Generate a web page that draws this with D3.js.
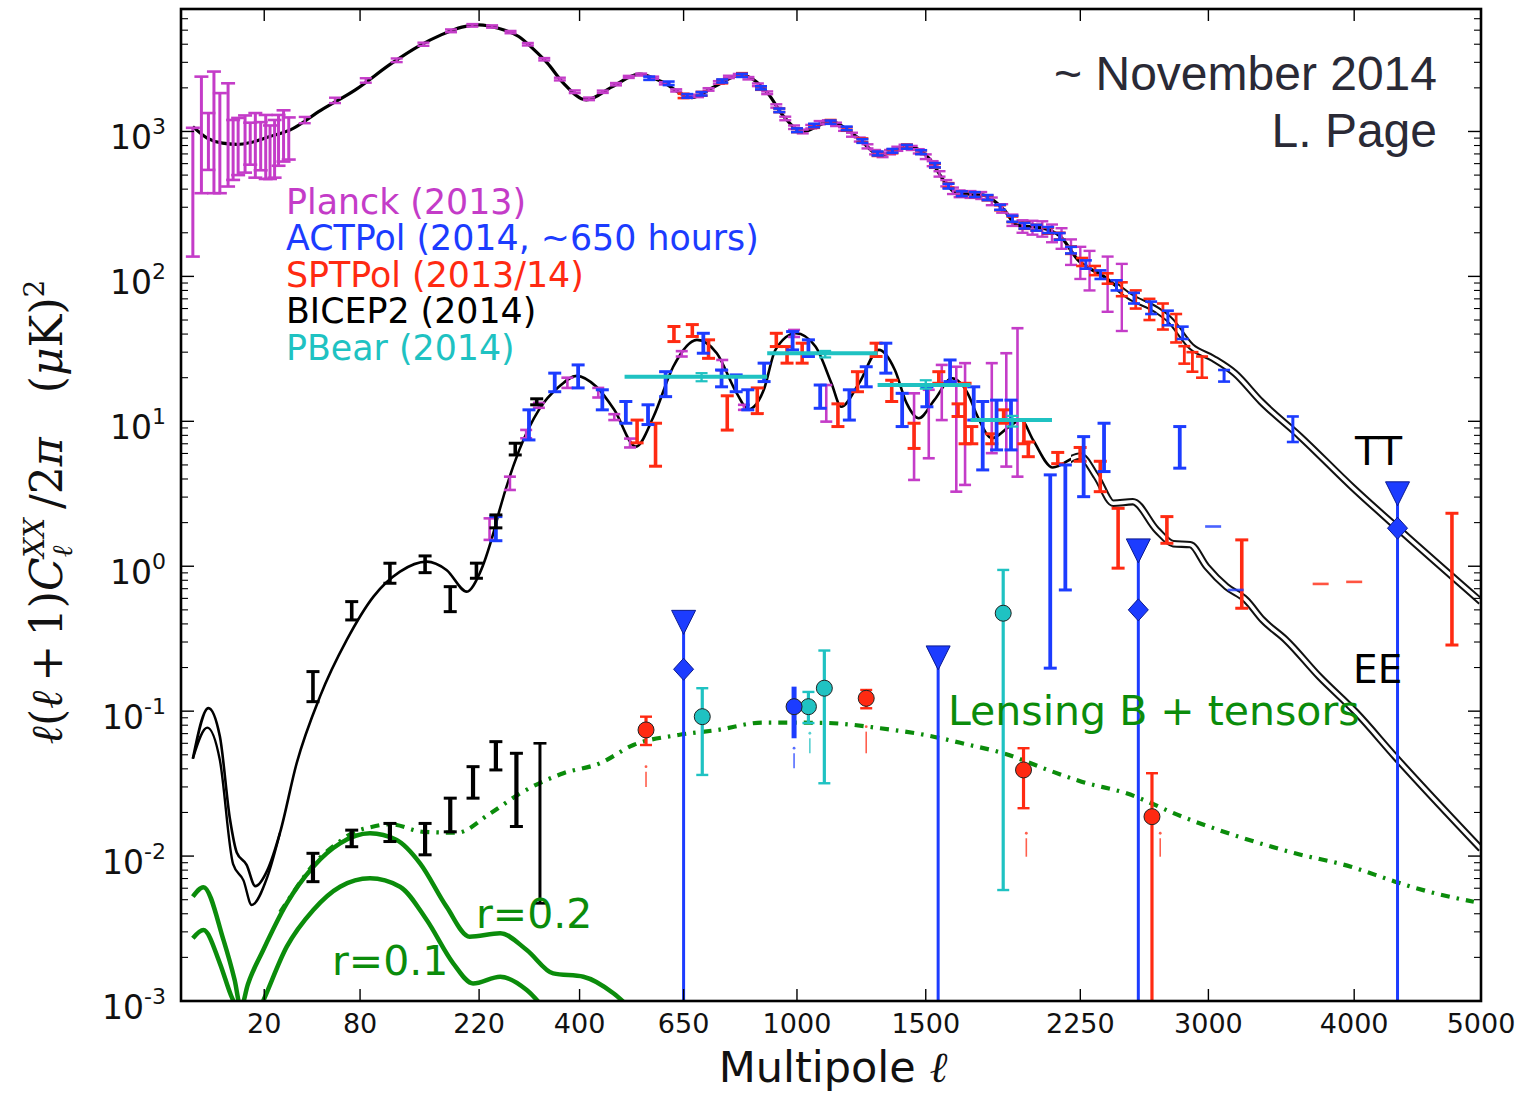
<!DOCTYPE html>
<html>
<head>
<meta charset="utf-8">
<title>CMB power spectra, November 2014</title>
<script src="https://cdn.jsdelivr.net/npm/d3@7"></script>
<style>
  html, body { margin: 0; padding: 0; background: #fff; }
  svg { display: block; }
</style>
</head>
<body>
<svg id="chart" width="1522" height="1094" xmlns="http://www.w3.org/2000/svg"></svg>
<script>
// ---------- theory spectra: [multipole l, l(l+1)C_l/2pi in uK^2] ----------
const ttTheory = [[2,1080],[4,900],[7,830],[10.7,815],[15,840],[22,920],[32,1026],[50,1400],[76,1937],[110,2960],[140,3900],[167,4640],[195,5250],[220,5440],[250,5150],[284,4520],[310,3700],[336,2960],[367,2155],[414,1652],[472,2040],[535,2485],[591,2210],[673,1714],[737,2040],[817,2460],[902,1837],[955,1268],[1020,998],[1118,1170],[1217,922],[1311,689],[1428,787],[1520,637],[1577,463],[1636,375],[1756,365],[1859,288],[1922,226],[2054,215],[2145,188],[2237,130],[2380,99.7],[2527,72.6],[2682,58.7],[2762,50.1],[2893,32.8],[3029,27.2],[3169,21.5],[3343,13.7],[3612,7.84],[3983,3.54],[4345,1.78],[5000,0.57]];

const eeTheory = [[2,0.047],[4.2,0.105],[6.4,0.067],[8.8,0.0178],[10.6,0.0106],[13.6,0.0087],[16.6,0.0062],[21.3,0.008],[26.9,0.0145],[35.4,0.0437],[49.5,0.126],[69,0.31],[92,0.617],[118.5,0.918],[149,1.076],[174,0.943],[202,0.668],[221,0.895],[242,1.69],[252,2.45],[285,6.35],[320,12.0],[358,17.3],[394,20.6],[436,17.3],[476,12.0],[527,6.69],[571,10.8],[622,23.8],[687,36.5],[744,29.5],[804,15.6],[840,12.1],[889,16.5],[927,31.1],[996,40.5],[1065,32.8],[1123,18.3],[1159,12.6],[1227,18.3],[1305,31.1],[1370,22.6],[1419,13.3],[1470,10.5],[1537,14.0],[1616,19.8],[1687,15.6],[1733,10.8],[1800,7.64],[1884,9.19],[1943,10.2],[2003,7.44],[2104,4.8],[2248,5.77],[2338,4.15],[2432,2.72],[2543,2.79],[2683,1.78],[2783,1.43],[2886,1.41],[2989,0.993],[3115,0.723],[3243,0.585],[3354,0.426],[3512,0.31],[3747,0.173],[4014,0.098],[4310,0.0485],[5000,0.0112]];

// second reionisation branch of EE at the lowest multipoles
const eeLowAlt = [[2,0.047],[4,0.077],[6.4,0.046],[9.6,0.0088],[12.6,0.0068],[15.3,0.0046],[21.3,0.0072],[26.9,0.0145]];

const bbLensTensor = [[27,0.0041],[30.2,0.0048],[45.2,0.0087],[64,0.0127],[74,0.0145],[89,0.0158],[108,0.0166],[145,0.0147],[188,0.0145],[237,0.0197],[286,0.027],[367,0.0373],[444,0.0437],[521,0.0584],[636,0.0685],[746,0.0742],[885,0.0834],[1096,0.083],[1311,0.0762],[1497,0.0685],[1696,0.0584],[1857,0.0512],[2079,0.0393],[2257,0.0326],[2507,0.0271],[2837,0.0187],[3196,0.0136],[3576,0.01045],[3976,0.00845],[4310,0.00666],[4574,0.00568],[4940,0.00484]];

const bbTensorR02 = [[2,0.00525],[3.4,0.0061],[7.2,0.00264],[10,0.0014],[11.8,0.0009],[14,0.0013],[19.6,0.00225],[30.2,0.00472],[45.2,0.00845],[63.8,0.01225],[88.8,0.01436],[115,0.0129],[141,0.00891],[174,0.00448],[206,0.00278],[253,0.00293],[298,0.00225],[347,0.00155],[408,0.00147],[474,0.00113],[530,0.0008]];

const bbTensorR01 = [[2,0.00271],[3.4,0.00309],[6.4,0.00182],[9,0.0011],[11,0.00085],[14,0.0006],[19,0.00095],[30.2,0.00237],[45.2,0.00425],[63.8,0.00615],[88.8,0.00703],[118.5,0.00615],[149,0.00362],[183,0.00182],[211,0.00132],[253,0.00147],[298,0.00119],[340,0.0008]];

// ---------- TT measurements ----------
// [l, low, high]
const planckLowTT = [[2,137,1060],[3.1,375,2390],[4.2,543,1340],[5.2,375,2590],[6.4,375,1840],[8.3,417,2150],[9.6,463,1200],[11,500,1240],[13.1,520,1290],[14.8,590,1150],[16.6,480,1340],[18.6,540,1160],[20.6,470,1300],[22.4,470,1100],[24.4,480,1200],[26.2,580,1300],[28.6,620,1400],[31.2,640,1250]];
// [l, value, sigma]
const planckTT = [[40,1200,60],[60,1640,70],[85,2250,80],[115,3100,90],[145,4000,100],[180,4950,110],[210,5400,110],[240,5300,100],[270,4850,90],[300,4000,80],[330,3150,60],[360,2300,50],[390,1880,40],[420,1680,35],[450,1880,35],[480,2120,40],[510,2380,40],[540,2470,40],[570,2350,40],[600,2150,40],[630,1920,35],[660,1740,35],[690,1760,35],[720,1950,40],[750,2180,45],[780,2380,45],[810,2450,45],[840,2330,45],[870,2100,45],[900,1850,40],[930,1500,40],[960,1230,35],[990,1070,30],[1020,1000,30],[1050,1080,30],[1080,1150,30],[1110,1165,30],[1140,1120,30],[1170,1040,30],[1200,950,30],[1230,880,28],[1260,790,26],[1290,720,25],[1320,690,25],[1350,720,25],[1380,760,25],[1410,785,25],[1440,770,25],[1470,730,25],[1500,670,25],[1530,600,24],[1560,510,22],[1590,440,22],[1620,390,20],[1650,372,20],[1700,368,20],[1750,362,20],[1800,330,20],[1850,295,20],[1900,245,22],[1950,222,22],[2000,218,24],[2050,214,26],[2100,200,28],[2150,185,30],[2200,150,30],[2250,128,32],[2300,115,35],[2400,97,40],[2480,82,40]];
const actTT = [[560,2330,60],[610,2150,60],[660,1760,50],[700,1820,50],[760,2230,55],[820,2440,60],[880,2000,50],[940,1400,40],[1000,1020,30],[1060,1100,30],[1120,1160,30],[1180,1050,30],[1240,860,25],[1300,705,22],[1360,735,22],[1420,785,24],[1480,720,22],[1540,585,20],[1600,420,16],[1660,372,14],[1720,367,14],[1780,350,14],[1840,300,12],[1900,250,12],[1960,224,10],[2020,217,10],[2080,209,10],[2140,189,10],[2200,152,8],[2280,121,8],[2360,103,7],[2450,87,7],[2550,71,6],[2650,61,6],[2750,52,6],[2840,41,4],[3100,20.7,1.9],[3560,9,1.8]];
const sptTT = [[650,1760,60],[700,1820,55],[760,2210,60],[820,2460,65],[880,1990,50],[940,1400,40],[1000,1020,30],[1060,1090,30],[1120,1170,30],[1180,1040,28],[1240,870,25],[1300,700,22],[1360,730,22],[1420,790,22],[1480,720,20],[1540,580,18],[1600,425,15],[1660,372,13],[1720,366,13],[1780,348,13],[1840,298,12],[1900,248,11],[1960,224,11],[2020,217,10],[2080,207,10],[2140,190,10],[2200,152,9],[2260,126,8],[2330,110,8],[2400,97,8],[2480,82,9],[2560,70,10],[2640,60,10],[2720,54,11],[2800,45,10],[2850,29,4],[2900,26,4],[2960,24,4]];

// ---------- EE measurements: [l, low, high] ----------
const bicepEE = [[45,0.1163,0.1875],[73,0.426,0.57],[108,0.763,1.049],[147,0.903,1.178],[179,0.486,0.723],[216,0.826,1.05],[246,1.84,2.26],[278,5.86,7.06],[316,13.0,14.3]];
const planckEE = [[236,1.52,2.14],[269,3.36,4.15],[297,7.64,8.72],[320,12.4,13.4],[375,17,20],[440,14.6,17],[476,10.2,11.2],[513,6.6,7.6],[645,28,30.5],[760,22.5,26.5],[826,12,13],[990,38.2,42.7],[1104,9.95,17.8],[1450,3.94,15.6],[1513,5.56,16.5],[1570,10.2,24.5],[1635,3.27,23.8],[1675,3.64,25.2],[1800,6.03,25.2],[1870,4.87,29.5],[1925,4.15,43.9]];
const actEE = [[246,1.5,2.2],[302,7.44,12.0],[350,16.0,21.5],[397,17.0,24.5],[449,12.0,16.5],[503,9.7,13.7],[557,9.5,13],[602,14.8,22.0],[705,29.5,40.5],[758,17.3,22.6],[802,16.0,20.9],[838,12.0,16.5],[890,18.8,25.2],[985,31.1,41.6],[1040,28.0,36.5],[1082,12.3,17.8],[1190,10.2,16.5],[1255,17.3,23.8],[1333,21.5,34.6],[1400,9.2,15.6],[1505,12.6,17.3],[1607,18.8,26.5],[1715,10.2,17.3],[1757,4.62,13.7],[1823,6.35,14.0],[1893,6.35,14.0],[2091,0.198,4.27],[2170,0.686,5.0],[2268,3.02,7.84],[2380,4.5,9.7],[2822,4.75,9.2]];
const sptEE = [[530,7.1,10.2],[576,4.9,9.7],[624,35.5,45.1],[674,38.5,46.5],[720,27.2,36.5],[775,8.7,15.0],[868,11.3,17.0],[930,32.8,40.5],[966,25.2,32.8],[1018,25.2,34.6],[1147,9.2,13.2],[1221,16.0,22.0],[1294,28.0,34.6],[1357,13.7,19.2],[1450,6.5,9.7],[1557,18.3,22.0],[1643,10.8,13.2],[1675,7.0,18.3],[1706,7.0,9.2],[1800,7.0,8.2],[1857,9.7,12.0],[1957,7.0,10.2],[1979,5.7,7.2],[2130,5.1,6.1],[2249,5.3,6.6],[2359,3.27,5.3],[2459,0.97,2.51],[2744,1.44,2.2],[3215,0.513,1.52],[4760,0.286,2.32]];
// band powers shown only as a short bar: [l, value]
const actEEDash = [[3030,1.88],[3175,0.686]];
const sptEEDash = [[3756,0.755],[4000,0.78]];
// PolarBear EE bands: [l start, l end, l centre, value, low, high]
const pbearEE = [[500,900,700,20.3,18.9,21.5],[900,1300,1100,29.5,27.6,30.6],[1300,1700,1500,17.8,16.8,19.2],[1700,2100,1900,10.2,9.2,10.9]];

// ---------- BB measurements ----------
const bicepBB = [[45,0.00666,0.01045],[73,0.0116,0.0151],[108,0.0126,0.0168],[147,0.0102,0.0168],[179,0.0147,0.0251],[211,0.0251,0.0414],[246,0.0393,0.0616],[280,0.016,0.0512],[322,0.00472,0.06]];
// [l, value, low, high]; a low of 0 runs off the bottom of the log axis
const sptBB = [[552,0.0742,0.0584,0.0916],[1255,0.1227,0.1047,0.14],[1955,0.0393,0.0214,0.0555],[2655,0.0187,0,0.0373]];
const pbearBB = [[702,0.0916,0.0363,0.144],[1040,0.1074,0.0828,0.1357],[1097,0.144,0.0318,0.262],[1855,0.474,0.00583,0.943]];
const actBB = [[990,0.1074,0.065,0.1476]];
// ACTPol BB upper limits (down-pointing triangles) and central values (diamonds)
const actBBLimit = [[650,0.41],[1554,0.233],[2575,1.276],[4328,3.16]];
const actBBPoint = [[650,0.1946],[2575,0.5],[4328,1.83]];
// small lower-edge markers under some BB points: [l, low, high, series]
const bbLowerMarks = [[552,0.030,0.0414,'spt'],[1255,0.0512,0.0782,'spt'],[990,0.0403,0.0555,'act'],[1045,0.0512,0.0704,'pbear'],[1969,0.0099,0.01437,'spt'],[2704,0.0099,0.01437,'spt']];

// ---------- axes and labels ----------
const xTickValues = [20,80,220,400,650,1000,1500,2250,3000,4000,5000];
const yDecades = [-3,-2,-1,0,1,2,3];
const legendEntries = [['Planck (2013)','planck'],['ACTPol (2014, ~650 hours)','act'],['SPTPol (2013/14)','spt'],['BICEP2 (2014)','bicep'],['PBear (2014)','pbear']];

const colors = {planck:'#c43cc8', act:'#1c3cff', spt:'#ff2a12', bicep:'#000000', pbear:'#1fc2c2', green:'#0b8c0b'};

// ---------- scales ----------
const plotL = 181, plotR = 1481, plotT = 9, plotB = 1001;
const x = d3.scalePow().exponent(0.45).domain([0.9, 5000]).range([plotL, plotR]);
const y = d3.scaleLog().domain([1e-3, 7000]).range([plotB, plotT]);
const yy = v => v > 0 ? y(v) : plotB + 40;   // non-positive lows run past the axis

const svg = d3.select('#chart');
const defs = svg.append('defs');
defs.append('clipPath').attr('id','plotClip').append('rect')
  .attr('x',plotL).attr('y',plotT).attr('width',plotR-plotL).attr('height',plotB-plotT);
defs.append('clipPath').attr('id','ttHighClip').append('rect')
  .attr('x',x(2450)).attr('y',plotT).attr('width',plotR-x(2450)).attr('height',plotB-plotT);
defs.append('clipPath').attr('id','eeHighClip').append('rect')
  .attr('x',x(2200)).attr('y',plotT).attr('width',plotR-x(2200)).attr('height',plotB-plotT);

svg.append('rect').attr('width',1522).attr('height',1094).attr('fill','#fff');
const plot = svg.append('g').attr('clip-path','url(#plotClip)');

const line = d3.line().x(d => x(d[0])).y(d => y(d[1])).curve(d3.curveMonotoneX);

// ---------- B-mode theory ----------
plot.append('path').attr('d', line(bbTensorR02)).attr('fill','none')
  .attr('stroke',colors.green).attr('stroke-width',4.5);
plot.append('path').attr('d', line(bbTensorR01)).attr('fill','none')
  .attr('stroke',colors.green).attr('stroke-width',4.5);
plot.append('path').attr('d', line(bbLensTensor)).attr('fill','none')
  .attr('stroke',colors.green).attr('stroke-width',4.2)
  .attr('stroke-dasharray','9,7,2.5,7');

// ---------- TT and EE theory ----------
function theory(data, width, highClip) {
  plot.append('path').attr('d', line(data)).attr('fill','none')
    .attr('stroke','#000').attr('stroke-width',width);
  const hi = plot.append('g').attr('clip-path',`url(#${highClip})`);
  hi.append('path').attr('d', line(data)).attr('fill','none')
    .attr('stroke','#111').attr('stroke-width',7.5);
  hi.append('path').attr('d', line(data)).attr('fill','none')
    .attr('stroke','#fff').attr('stroke-width',3.4);
}
theory(ttTheory, 3.2, 'ttHighClip');
theory(eeTheory, 2.6, 'eeHighClip');
plot.append('path').attr('d', line(eeLowAlt)).attr('fill','none')
  .attr('stroke','#000').attr('stroke-width',2.4);

// ---------- error bars ----------
function errorBars(data, color, opt) {
  const g = plot.append('g').attr('stroke', color).attr('fill','none');
  g.selectAll('line.bar').data(data).join('line').attr('class','bar')
    .attr('x1', d => x(d[0])).attr('x2', d => x(d[0]))
    .attr('y1', d => yy(d[1])).attr('y2', d => yy(d[2]))
    .attr('stroke-width', opt.w);
  if (opt.cap) {
    const caps = [];
    data.forEach(d => { if (d[1] > 0) caps.push([d[0], d[1]]); caps.push([d[0], d[2]]); });
    g.selectAll('line.cap').data(caps).join('line').attr('class','cap')
      .attr('x1', d => x(d[0]) - opt.cap).attr('x2', d => x(d[0]) + opt.cap)
      .attr('y1', d => y(d[1])).attr('y2', d => y(d[1]))
      .attr('stroke-width', opt.cw);
  }
  return g;
}
const sym = arr => arr.map(d => [d[0], d[1] - d[2], d[1] + d[2]]);

// TT
errorBars(planckLowTT, colors.planck, {w:3, cap:7, cw:2.6});
errorBars(sym(planckTT), colors.planck, {w:2.4, cap:6, cw:2.4});
errorBars(sym(sptTT), colors.spt, {w:2.8, cap:6, cw:2.6});
errorBars(sym(actTT), colors.act, {w:3, cap:6, cw:2.6});

// EE
errorBars(planckEE, colors.planck, {w:2.6, cap:6, cw:2.6});
errorBars(sptEE, colors.spt, {w:3.6, cap:6.5, cw:3});
errorBars(actEE, colors.act, {w:3.8, cap:6.5, cw:3});
errorBars(bicepEE, colors.bicep, {w:3.6, cap:6.5, cw:3});

function dashes(data, color) {
  plot.append('g').selectAll('line').data(data).join('line')
    .attr('x1', d => x(d[0]) - 8).attr('x2', d => x(d[0]) + 8)
    .attr('y1', d => y(d[1])).attr('y2', d => y(d[1]))
    .attr('stroke', color).attr('stroke-width', 2.6).attr('opacity', 0.8);
}
dashes(actEEDash, colors.act);
dashes(sptEEDash, colors.spt);

// PolarBear EE bands
const pb = plot.append('g').attr('stroke', colors.pbear).attr('fill','none');
pb.selectAll('line.band').data(pbearEE).join('line').attr('class','band')
  .attr('x1', d => x(d[0])).attr('x2', d => x(d[1]))
  .attr('y1', d => y(d[3])).attr('y2', d => y(d[3])).attr('stroke-width', 4);
errorBars(pbearEE.map(d => [d[2], d[4], d[5]]), colors.pbear, {w:2.4, cap:6, cw:2.2});

// BB
errorBars(bicepBB.slice(0, -1), colors.bicep, {w:4.2, cap:6.5, cw:3});
errorBars(bicepBB.slice(-1), colors.bicep, {w:3, cap:6.5, cw:2.6});

// ACTPol limits: vertical lines from the limit down past the axis
plot.append('g').selectAll('line').data(actBBLimit).join('line')
  .attr('x1', d => x(d[0])).attr('x2', d => x(d[0]))
  .attr('y1', d => y(d[1])).attr('y2', plotB + 40)
  .attr('stroke', colors.act).attr('stroke-width', 3);

errorBars(sptBB.map(d => [d[0], d[2], d[3]]), colors.spt, {w:3.2, cap:6, cw:2.4});
errorBars(pbearBB.map(d => [d[0], d[2], d[3]]), colors.pbear, {w:3.2, cap:6, cw:2.4});
errorBars(actBB.map(d => [d[0], d[2], d[3]]), colors.act, {w:5, cap:0, cw:0});

// lower-edge markers
const lm = plot.append('g');
bbLowerMarks.forEach(d => {
  const c = colors[d[3]];
  lm.append('line').attr('x1', x(d[0])).attr('x2', x(d[0]))
    .attr('y1', y(d[2]) + 5).attr('y2', y(d[1]))
    .attr('stroke', c).attr('stroke-width', 1.6).attr('opacity', 0.75);
  lm.append('circle').attr('cx', x(d[0])).attr('cy', y(d[2]))
    .attr('r', 1.4).attr('fill', c).attr('opacity', 0.75);
});

// markers
const mk = plot.append('g');
mk.selectAll('circle.spt').data(sptBB).join('circle').attr('class','spt')
  .attr('cx', d => x(d[0])).attr('cy', d => y(d[1])).attr('r', 8)
  .attr('fill', colors.spt).attr('stroke', '#222').attr('stroke-width', 1);
mk.selectAll('circle.pbear').data(pbearBB).join('circle').attr('class','pbear')
  .attr('cx', d => x(d[0])).attr('cy', d => y(d[1])).attr('r', 8)
  .attr('fill', colors.pbear).attr('stroke', '#222').attr('stroke-width', 1);
mk.selectAll('circle.act').data(actBB).join('circle').attr('class','act')
  .attr('cx', d => x(d[0])).attr('cy', d => y(d[1])).attr('r', 8)
  .attr('fill', colors.act).attr('stroke', '#222').attr('stroke-width', 1);
mk.selectAll('path.limit').data(actBBLimit).join('path').attr('class','limit')
  .attr('d', d => { const cx = x(d[0]), cy = y(d[1]);
    return `M${cx-12},${cy-12}L${cx+12},${cy-12}L${cx},${cy+12}Z`; })
  .attr('fill', colors.act).attr('stroke', '#0b1a90').attr('stroke-width', 1);
mk.selectAll('path.diamond').data(actBBPoint).join('path').attr('class','diamond')
  .attr('d', d => { const cx = x(d[0]), cy = y(d[1]);
    return `M${cx},${cy-11}L${cx+10},${cy}L${cx},${cy+11}L${cx-10},${cy}Z`; })
  .attr('fill', colors.act).attr('stroke', '#0b1a90').attr('stroke-width', 1);

// ---------- frame and ticks ----------
const ax = svg.append('g').attr('stroke','#000');
xTickValues.forEach(v => {
  ax.append('line').attr('x1', x(v)).attr('x2', x(v)).attr('y1', plotB).attr('y2', plotB - 12).attr('stroke-width', 1.4);
  ax.append('line').attr('x1', x(v)).attr('x2', x(v)).attr('y1', plotT).attr('y2', plotT + 12).attr('stroke-width', 1.4);
});
yDecades.forEach(e => {
  const base = Math.pow(10, e);
  [plotL, plotR].forEach(side => {
    const dir = side === plotL ? 1 : -1;
    ax.append('line').attr('x1', side).attr('x2', side + dir * 13)
      .attr('y1', y(base)).attr('y2', y(base)).attr('stroke-width', 1.4);
    for (let m = 2; m <= 9; m++) {
      const v = m * base;
      if (v > 7000) break;
      ax.append('line').attr('x1', side).attr('x2', side + dir * 7)
        .attr('y1', y(v)).attr('y2', y(v)).attr('stroke-width', 1.1);
    }
  });
});
ax.append('rect').attr('x', plotL).attr('y', plotT).attr('width', plotR - plotL).attr('height', plotB - plotT)
  .attr('fill','none').attr('stroke-width', 2.6);

const txt = svg.append('g').attr('font-family','"DejaVu Sans", sans-serif').attr('fill','#111');
txt.selectAll('text.xt').data(xTickValues).join('text').attr('class','xt')
  .attr('x', d => x(d)).attr('y', 1033).attr('text-anchor','middle').attr('font-size', 27)
  .text(d => d);
yDecades.forEach(e => {
  const t = txt.append('text').attr('x', 166).attr('y', y(Math.pow(10, e)) + 18)
    .attr('text-anchor','end').attr('font-size', 33);
  t.append('tspan').text('10');
  t.append('tspan').attr('font-size', 22).attr('dy', -15).text(String(e));
});

// x-axis title
const xl = txt.append('text').attr('x', 833).attr('y', 1082).attr('text-anchor','middle').attr('font-size', 43);
xl.append('tspan').text('Multipole ');
xl.append('tspan').attr('font-family','"DejaVu Serif", serif').attr('font-style','italic').text('ℓ');

// y-axis title
const yl = svg.append('text').attr('transform','translate(62,512) rotate(-90)')
  .attr('text-anchor','middle').attr('font-family','"DejaVu Serif", serif').attr('font-size', 44).attr('fill','#111');
yl.append('tspan').attr('font-style','italic').text('ℓ');
yl.append('tspan').text('(');
yl.append('tspan').attr('font-style','italic').text('ℓ');
yl.append('tspan').text('\u2009+\u20091)');
yl.append('tspan').attr('font-style','italic').text('C');
yl.append('tspan').attr('font-style','italic').attr('font-size', 28).attr('dy', 10).text('ℓ');
yl.append('tspan').attr('font-style','italic').attr('font-size', 28).attr('dx', -12).attr('dy', -28).text('XX');
yl.append('tspan').attr('dy', 18).text('\u2009/2');
yl.append('tspan').attr('font-style','italic').text('π');
yl.append('tspan').text('\u2003(');
yl.append('tspan').attr('font-style','italic').text('μ');
yl.append('tspan').text('K)');
yl.append('tspan').attr('font-size', 28).attr('dy', -18).text('2');

// legend
const lg = svg.append('g').attr('font-family','"DejaVu Sans", sans-serif').attr('font-size', 34.8);
lg.selectAll('text').data(legendEntries).join('text')
  .attr('x', 286).attr('y', (d, i) => 214 + i * 36.4)
  .attr('fill', d => colors[d[1]]).text(d => d[0]);

// curve labels
const cl = svg.append('g').attr('font-family','"DejaVu Sans", sans-serif');
cl.append('text').attr('x', 1355).attr('y', 465).attr('font-size', 39).attr('fill','#000').text('TT');
cl.append('text').attr('x', 1353).attr('y', 683).attr('font-size', 39).attr('fill','#000').text('EE');
cl.append('text').attr('x', 948).attr('y', 725).attr('font-size', 41).attr('fill', colors.green).text('Lensing B + tensors');
cl.append('text').attr('x', 476).attr('y', 928).attr('font-size', 41).attr('fill', colors.green).text('r=0.2');
cl.append('text').attr('x', 332).attr('y', 975).attr('font-size', 41).attr('fill', colors.green).text('r=0.1');

// date and author note
const note = svg.append('g').attr('font-family','"Liberation Sans", Arial, sans-serif')
  .attr('font-size', 48).attr('fill','#2a2a36').attr('text-anchor','end');
note.append('text').attr('x', 1437).attr('y', 90).text('~ November 2014');
note.append('text').attr('x', 1437).attr('y', 147).text('L. Page');
</script>
</body>
</html>
